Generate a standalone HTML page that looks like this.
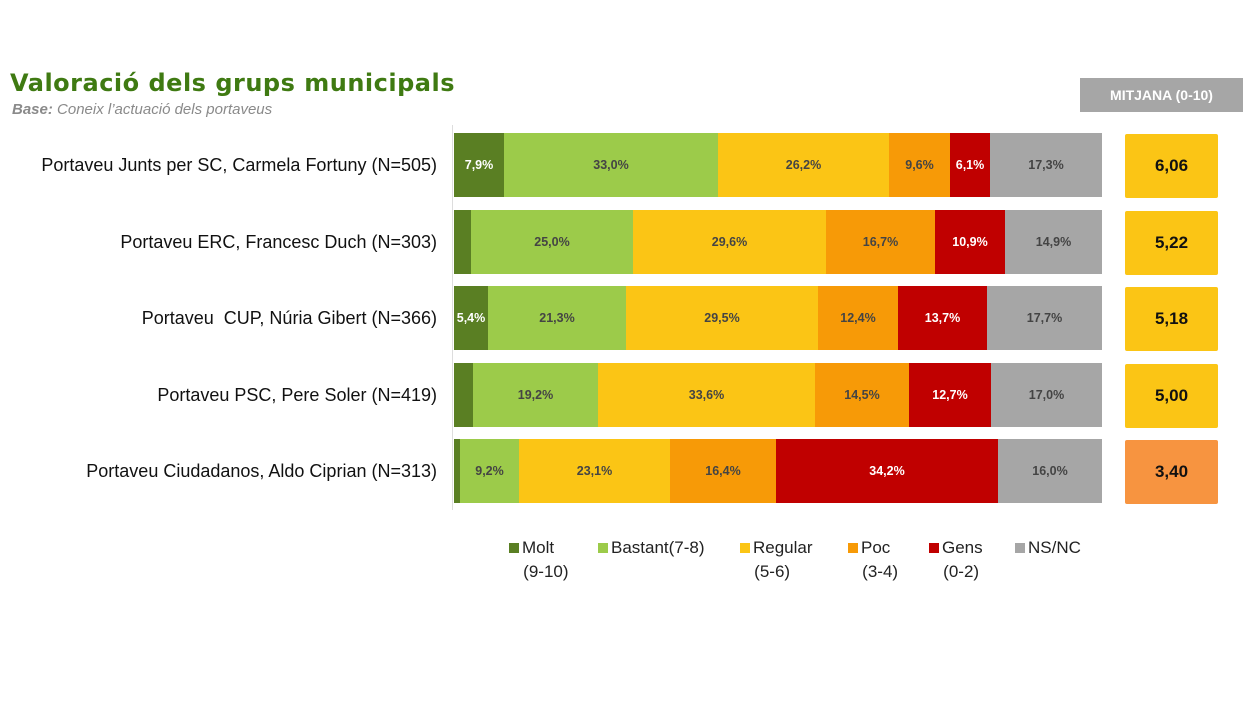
<!DOCTYPE html>
<html><head><meta charset="utf-8"><style>
body{margin:0;width:1250px;height:703px;background:#fff;position:relative;overflow:hidden;font-family:"Liberation Sans",sans-serif}
.a{position:absolute}
.lab{position:absolute;right:813px;font-size:18px;color:#111;white-space:nowrap}
.s{position:absolute;height:64px;display:flex;align-items:center;justify-content:center;font-size:12.5px;font-weight:bold;color:#444}
.w{color:#fff}
.m{position:absolute;left:1125px;width:93px;height:64px;background:#fbc515;border-radius:2px;display:flex;align-items:center;justify-content:center;font-weight:bold;font-size:17px;color:#111}
.lg{position:absolute;top:536px;font-size:17px;color:#222;line-height:24px}
.lg i{display:inline-block;width:10px;height:10px;margin-right:3px}
</style></head><body>
<div class="a" style="left:10px;top:69px;font-size:24px;font-weight:bold;color:#3f7a12;font-family:'DejaVu Sans',sans-serif;letter-spacing:0.5px">Valoració dels grups municipals</div>
<div class="a" style="left:12px;top:101px;font-size:15px;font-style:italic;color:#8a8a8a"><b>Base:</b> Coneix l’actuació dels portaveus</div>
<div class="a" style="left:1080px;top:78px;width:163px;height:34px;background:#a6a6a6;color:#fff;font-weight:bold;font-size:14px;display:flex;align-items:center;justify-content:center">MITJANA (0-10)</div>
<div class="a" style="left:452px;top:125px;width:1px;height:385px;background:#ddd"></div>
<div id="bars"></div>
<div class="lab" style="top:155px">Portaveu Junts per SC, Carmela Fortuny (N=505)</div>
<div class="lab" style="top:232px">Portaveu ERC, Francesc Duch (N=303)</div>
<div class="lab" style="top:308px">Portaveu &nbsp;CUP, Núria Gibert (N=366)</div>
<div class="lab" style="top:385px">Portaveu PSC, Pere Soler (N=419)</div>
<div class="lab" style="top:461px">Portaveu Ciudadanos, Aldo Ciprian (N=313)</div>
<div class="m" style="top:134px">6,06</div>
<div class="m" style="top:211px">5,22</div>
<div class="m" style="top:287px">5,18</div>
<div class="m" style="top:364px">5,00</div>
<div class="m" style="top:440px;background:#f79440">3,40</div>
<div class="lg" style="left:509px"><i style="background:#5a7f23"></i>Molt<br>&nbsp;&nbsp;&nbsp;(9-10)</div>
<div class="lg" style="left:598px"><i style="background:#9ccb4a"></i>Bastant(7-8)</div>
<div class="lg" style="left:740px"><i style="background:#fbc515"></i>Regular<br>&nbsp;&nbsp;&nbsp;(5-6)</div>
<div class="lg" style="left:848px"><i style="background:#f79a07"></i>Poc<br>&nbsp;&nbsp;&nbsp;(3-4)</div>
<div class="lg" style="left:929px"><i style="background:#c00000"></i>Gens<br>&nbsp;&nbsp;&nbsp;(0-2)</div>
<div class="lg" style="left:1015px"><i style="background:#a6a6a6"></i>NS/NC</div>
<script>
var C=["#5a7f23","#9ccb4a","#fbc515","#f79a07","#c00000","#a6a6a6"];
var R=[[133,[454,504,718,889,950,990,1102],["7,9%","33,0%","26,2%","9,6%","6,1%","17,3%"]],
[210,[454,471,633,826,935,1005,1102],["","25,0%","29,6%","16,7%","10,9%","14,9%"]],
[286,[454,488,626,818,898,987,1102],["5,4%","21,3%","29,5%","12,4%","13,7%","17,7%"]],
[363,[454,473,598,815,909,991,1102],["","19,2%","33,6%","14,5%","12,7%","17,0%"]],
[439,[454,460,519,670,776,998,1102],["","9,2%","23,1%","16,4%","34,2%","16,0%"]]];
var h="";R.forEach(function(r){for(var i=0;i<6;i++){h+='<div class="s'+((i==0||i==4)?' w':'')+'" style="top:'+r[0]+'px;left:'+r[1][i]+'px;width:'+(r[1][i+1]-r[1][i])+'px;background:'+C[i]+'">'+r[2][i]+'</div>';}});
document.getElementById("bars").innerHTML=h;
</script>
</body></html>
